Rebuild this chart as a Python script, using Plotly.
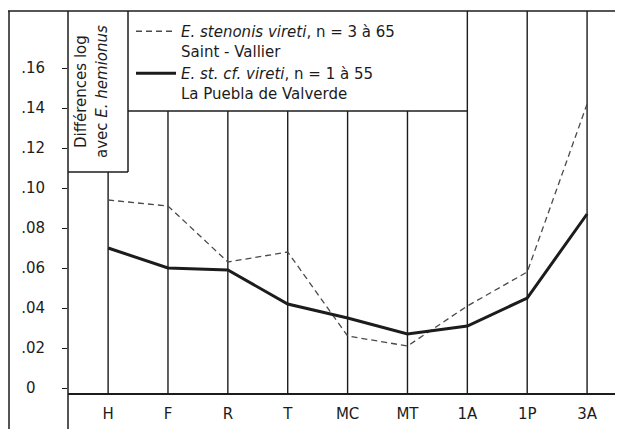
import plotly.graph_objects as go

categories = ["H", "F", "R", "T", "MC", "MT", "1A", "1P", "3A"]
saint_vallier = [0.094, 0.091, 0.063, 0.068, 0.026, 0.021, 0.041, 0.058, 0.142]
la_puebla = [0.070, 0.060, 0.059, 0.042, 0.035, 0.027, 0.031, 0.045, 0.087]
y_ticks = [0, 0.02, 0.04, 0.06, 0.08, 0.10, 0.12, 0.14, 0.16]
y_ticktext = ["0\u00a0\u00a0", ".02", ".04", ".06", ".08", ".10", ".12", ".14", ".16"]

INK = "#1c1c1c"
FONT = "DejaVu Sans, sans-serif"
Y0, Y1 = -0.0025, 0.1885
# how far up each vertical rule reaches (stops under the boxes)
rule_tops = [0.108, 0.1385, 0.1385, 0.1385, 0.1385, 0.1385, Y1, Y1, Y1]

xs = list(range(len(categories)))

fig = go.Figure()
fig.add_trace(go.Scatter(
    x=xs, y=saint_vallier, mode="lines",
    name="<i>E. stenonis vireti</i>, n = 3 à 65<br>Saint - Vallier",
    line=dict(color="#4a4a4a", width=1.3, dash="6px,4px"),
))
fig.add_trace(go.Scatter(
    x=xs, y=la_puebla, mode="lines",
    name="<i>E. st. cf. vireti</i>, n = 1 à 55<br>La Puebla de Valverde",
    line=dict(color=INK, width=3),
))

shapes = []
for i, top in enumerate(rule_tops):
    shapes.append(dict(type="line", xref="x", yref="y", x0=i, x1=i, y0=Y0, y1=top,
                       line=dict(color=INK, width=1.4), layer="below"))

# page pixel -> paper coords (page body has an 8px margin)
PW, PH = 555, 382
def px_x(p):
    return (p - 68) / PW
def px_y(p):
    return 1 - (p - 11) / PH

frame = [
    (px_x(8), px_y(11), 1, px_y(11)),            # top border
    (px_x(9), px_y(11), px_x(9), px_y(429)),     # outer left border
    (0, px_y(11), 0, px_y(429)),                 # inner left border
    (px_x(128), px_y(11), px_x(128), px_y(172)), # label box right
    (0, px_y(172), px_x(128), px_y(172)),        # label box bottom
    (px_x(128), px_y(111), px_x(467), px_y(111)),# legend box bottom
]
for x0, y0, x1, y1 in frame:
    shapes.append(dict(type="line", xref="paper", yref="paper", x0=x0, y0=y0, x1=x1, y1=y1,
                       line=dict(color=INK, width=1.5)))

fig.update_layout(
    width=615, height=421,
    margin=dict(l=60, r=0, t=3, b=36),
    paper_bgcolor="white", plot_bgcolor="white",
    font=dict(family=FONT, color=INK, size=14),
    showlegend=True,
    legend=dict(
        x=px_x(131), y=px_y(15), xanchor="left", yanchor="top",
        bgcolor="rgba(0,0,0,0)", borderwidth=0, valign="top",
        font=dict(size=15, family=FONT, color=INK),
        itemwidth=40,
    ),
    shapes=shapes,
    annotations=[
        dict(xref="paper", yref="paper", x=px_x(81), y=px_y(92),
             xanchor="center", yanchor="middle",
             text="Différences log", showarrow=False, textangle=-90,
             font=dict(size=15, family=FONT, color=INK)),
        dict(xref="paper", yref="paper", x=px_x(102), y=px_y(92),
             xanchor="center", yanchor="middle",
             text="avec <i>E. hemionus</i>", showarrow=False, textangle=-90,
             font=dict(size=15, family=FONT, color=INK)),
    ],
)
fig.update_xaxes(
    range=[-0.67, 8.6], tickvals=xs, ticktext=categories,
    showline=True, linecolor=INK, linewidth=1.5, showgrid=False, zeroline=False,
    ticks="", ticklabelstandoff=6, tickfont=dict(size=15),
)
fig.update_yaxes(
    range=[Y0, Y1], tickvals=y_ticks, ticktext=y_ticktext,
    showline=False, showgrid=False, zeroline=False,
    ticks="outside", ticklen=5, tickcolor=INK, tickwidth=1.2,
    ticklabelstandoff=14, tickfont=dict(size=15),
)

fig.write_html("out.html")
